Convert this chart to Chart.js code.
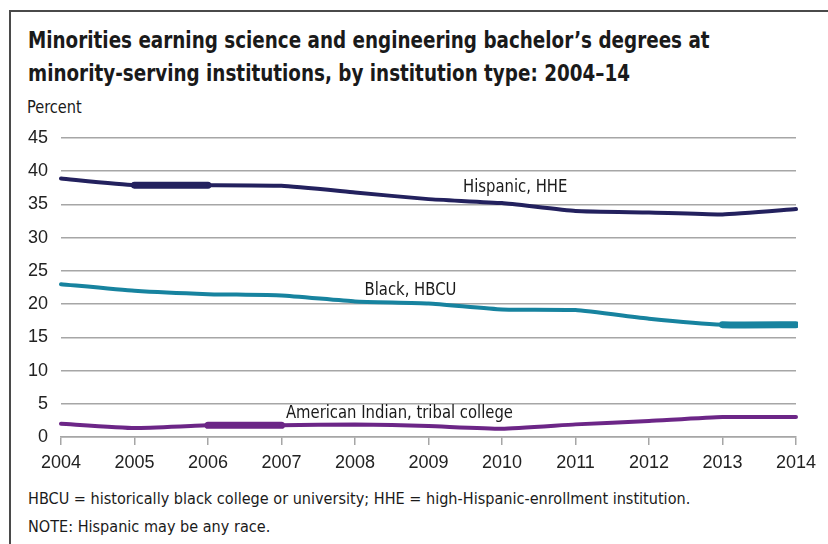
<!DOCTYPE html>
<html>
<head>
<meta charset="utf-8">
<script src="https://cdn.jsdelivr.net/npm/chart.js@4.4.1/dist/chart.umd.min.js"></script>
<style>
  html, body { margin: 0; padding: 0; background: #fff; }
  body { width: 828px; height: 544px; position: relative; overflow: hidden; }
  #frame {
    position: absolute; left: 9px; top: 10px; right: -5px; bottom: -5px;
    border-left: 2px solid #4a4a4a; border-top: 2px solid #4a4a4a;
  }
  .narrow { font-family: "DejaVu Sans Condensed", "Liberation Sans", sans-serif; color: #1a1a1a; position: absolute; white-space: nowrap; transform-origin: 0 0; }
  #title { left: 28px; top: 24px; font-size: 23px; font-weight: bold; line-height: 33px; transform: scaleX(0.887); }
  #unit { left: 27px; top: 96px; font-size: 18px; transform: scaleX(0.9); }
  #foot { left: 28px; top: 485px; font-size: 16.5px; line-height: 28px; transform: scaleX(0.975); }
  canvas { position: absolute; left: 0; top: 0; }
</style>
</head>
<body>
<div id="frame"></div>
<div id="title" class="narrow">Minorities earning science and engineering bachelor’s degrees at<br>minority-serving institutions, by institution type: 2004–14</div>
<div id="unit" class="narrow">Percent</div>
<div id="foot" class="narrow">HBCU = historically black college or university; HHE = high-Hispanic-enrollment institution.<br>NOTE: Hispanic may be any race.</div>
<canvas id="chart" width="828" height="544"></canvas>
<script>
const years = ["2004", "2005", "2006", "2007", "2008", "2009", "2010", "2011", "2012", "2013", "2014"];
const hispanicHHE = [38.9, 37.9, 37.9, 37.8, 36.8, 35.8, 35.2, 34.0, 33.8, 33.5, 34.3];
const blackHBCU = [23.0, 22.0, 21.5, 21.3, 20.4, 20.1, 19.2, 19.1, 17.8, 16.9, 16.9];
const amIndianTribal = [2.0, 1.35, 1.75, 1.75, 1.9, 1.65, 1.25, 1.9, 2.4, 3.0, 3.0];
const seriesNames = ["Hispanic, HHE", "Black, HBCU", "American Indian, tribal college"];
const yTicks = [0, 5, 10, 15, 20, 25, 30, 35, 40, 45];

const narrowFont = '"DejaVu Sans Condensed", "Liberation Sans", sans-serif';
const tickFont = { family: '"Liberation Sans", Arial, sans-serif', size: 18 };

// thicker stretch on each line, as in the original
function widthAt(thickIdx) {
  return ctx => ctx.p0DataIndex === thickIdx ? 7 : 4;
}

// text labels placed next to each line (category index, value)
const lineLabels = {
  id: "lineLabels",
  afterDatasetsDraw(chart) {
    const { ctx, scales } = chart;
    const spots = [[5.47, 37.6], [4.13, 22.0], [3.06, 3.6]];
    ctx.save();
    ctx.font = "17px " + narrowFont;
    ctx.fillStyle = "#1a1a1a";
    ctx.textBaseline = "middle";
    spots.forEach((s, i) => {
      const x = scales.x.getPixelForValue(s[0]);
      const y = scales.y.getPixelForValue(s[1]);
      ctx.save();
      ctx.translate(x, y);
      ctx.scale(0.97, 1);
      ctx.fillText(seriesNames[i], 0, 0);
      ctx.restore();
    });
    ctx.restore();
  }
};

new Chart(document.getElementById("chart"), {
  type: "line",
  data: {
    labels: years,
    datasets: [
      { label: seriesNames[0], data: hispanicHHE, borderColor: "#23215e", segment: { borderWidth: widthAt(1) } },
      { label: seriesNames[1], data: blackHBCU, borderColor: "#17839f", segment: { borderWidth: widthAt(9) } },
      { label: seriesNames[2], data: amIndianTribal, borderColor: "#6c2687", segment: { borderWidth: widthAt(2) } }
    ]
  },
  options: {
    responsive: false,
    animation: false,
    elements: {
      point: { radius: 0 },
      line: { borderWidth: 4, tension: 0.15, borderCapStyle: "round", borderJoinStyle: "round" }
    },
    layout: { padding: { left: 0, right: 32, top: 138, bottom: 72 } },
    plugins: { legend: { display: false }, tooltip: { enabled: false } },
    scales: {
      x: {
        offset: false,
        grid: { drawOnChartArea: false, drawTicks: true, tickLength: 8, color: "#a6a6a6", lineWidth: 1.5 },
        border: { display: true, color: "#a6a6a6", width: 1.5 },
        ticks: { font: tickFont, color: "#222", padding: 7, maxRotation: 0 },
        afterFit: s => { s.height = 35; }
      },
      y: {
        min: 0, max: 45,
        afterBuildTicks: s => { s.ticks = yTicks.map(v => ({ value: v })); },
        grid: { drawTicks: false, color: "#a6a6a6", lineWidth: 1.5 },
        border: { display: false },
        ticks: { font: tickFont, color: "#222", padding: 13 },
        afterFit: s => { s.width = 61; }
      }
    }
  },
  plugins: [lineLabels]
});
</script>
</body>
</html>
